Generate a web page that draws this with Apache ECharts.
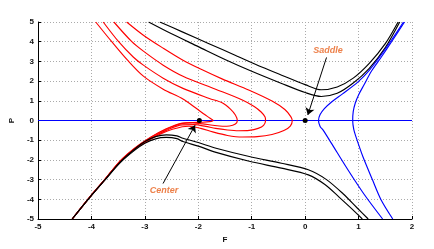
<!DOCTYPE html>
<html><head><meta charset="utf-8">
<script src="https://cdn.jsdelivr.net/npm/echarts@6/dist/echarts.min.js"></script>
<style>html,body{margin:0;padding:0;background:#fff}#c{width:434px;height:249px}</style>
</head><body><div id="c"></div>
<script>
// axis ranges / ticks
const xRange = [-5, 2];
const yRange = [-5, 5];
const axisNames = ['F', 'P'];

// red trajectories (F, P)
const red1 = [[-3.92,5],[-3.62,4.0],[-3.324,3.06],[-3.028,2.25],[-2.657,1.59],[-2.287,1.09],[-2.046,0.63],[-1.88,0.30],[-1.787,0.13],[-1.722,0],[-1.787,-0.06],[-1.917,-0.09],[-2.102,-0.10],[-2.3,-0.13],[-2.6,-0.42],[-2.9,-0.86],[-3.2,-1.42],[-3.46,-2.05],[-3.75,-3.0],[-4.05,-3.95],[-4.36,-5]];
const red2 = [[-3.78,5],[-3.491,4.0],[-3.213,3.21],[-3.028,2.81],[-2.657,2.15],[-2.287,1.63],[-1.793,1.12],[-1.546,0.89],[-1.398,0.58],[-1.306,0.28],[-1.269,0],[-1.306,-0.18],[-1.417,-0.28],[-1.546,-0.29],[-1.731,-0.24],[-1.917,-0.17],[-2.102,-0.12],[-2.3,-0.15],[-2.6,-0.44],[-2.9,-0.88],[-3.2,-1.44],[-3.46,-2.05],[-3.75,-3.0],[-4.05,-3.95],[-4.36,-5]];
const red3 = [[-3.58,5],[-3.244,4.0],[-3.028,3.52],[-2.657,2.81],[-2.287,2.25],[-1.676,1.59],[-1.176,1.04],[-0.954,0.71],[-0.824,0.43],[-0.75,0.18],[-0.741,0],[-0.778,-0.25],[-0.88,-0.40],[-1.046,-0.50],[-1.25,-0.52],[-1.454,-0.48],[-1.676,-0.40],[-1.861,-0.30],[-2.065,-0.21],[-2.3,-0.22],[-2.6,-0.5],[-2.9,-0.92],[-3.2,-1.46],[-3.46,-2.06],[-3.75,-3.0],[-4.05,-3.95],[-4.36,-5]];
const red4 = [[-3.341,5],[-3.028,4.33],[-2.657,3.67],[-2.287,3.06],[-1.917,2.56],[-1.546,2.10],[-1.046,1.54],[-0.62,0.99],[-0.38,0.56],[-0.269,0.20],[-0.241,0],[-0.278,-0.28],[-0.398,-0.51],[-0.62,-0.71],[-0.898,-0.82],[-1.176,-0.84],[-1.454,-0.76],[-1.731,-0.58],[-1.954,-0.40],[-2.176,-0.29],[-2.3,-0.32],[-2.6,-0.56],[-2.9,-0.96],[-3.2,-1.48],[-3.46,-2.07],[-3.75,-3.0],[-4.05,-3.95],[-4.36,-5]];

// black trajectories
const blackUpIn = [[-2.93,5],[-2.5,4.4],[-2.0,3.75],[-1.5,3.1],[-1.0,2.5],[-0.44,1.88],[0,1.42],[0.3,1.22],[0.6,1.38],[0.9,1.9],[1.2,2.65],[1.5,3.7],[1.77,5]];
const blackUpOut = [[-2.72,5],[-2.3,4.5],[-1.8,3.9],[-1.3,3.3],[-0.8,2.7],[-0.44,2.3],[0,1.82],[0.3,1.56],[0.6,1.7],[0.9,2.15],[1.2,2.9],[1.5,3.9],[1.74,5]];
const blackLowUp = [[-4.36,-5],[-4.05,-3.96],[-3.75,-3.01],[-3.46,-2.1],[-3.2,-1.47],[-3.0,-1.07],[-2.8,-0.82],[-2.6,-0.73],[-2.4,-0.78],[-2.287,-0.90],[-2.0,-1.12],[-1.667,-1.41],[-1.046,-1.83],[-0.444,-2.17],[0.06,-2.5],[0.40,-3.0],[0.71,-3.72],[0.97,-4.43],[1.18,-5]];
const blackLowDn = [[-4.36,-5],[-4.05,-3.97],[-3.75,-3.03],[-3.46,-2.14],[-3.2,-1.53],[-3.0,-1.16],[-2.8,-0.93],[-2.6,-0.86],[-2.4,-0.92],[-2.287,-1.07],[-2.0,-1.3],[-1.667,-1.62],[-1.046,-2.07],[-0.444,-2.42],[0.06,-2.76],[0.37,-3.25],[0.64,-3.9],[0.88,-4.5],[1.07,-5]];

// blue trajectories
const blueAxis = [[-5,0],[2,0]];
const blue1 = [[1.84,5],[1.62,4.1],[1.4,3.25],[1.2,2.55],[0.99,1.96],[0.7,1.35],[0.5,0.95],[0.36,0.6],[0.28,0.3],[0.25,0],[0.28,-0.3],[0.34,-0.5],[0.49,-1.15],[0.8,-2.5],[1.11,-3.77],[1.45,-5]];
const blue2 = [[1.86,5],[1.63,4.05],[1.42,3.2],[1.24,2.5],[1.1,1.8],[1.0,1.3],[0.94,0.9],[0.9,0.45],[0.89,0],[0.91,-0.45],[0.95,-0.82],[1.08,-1.83],[1.26,-3.01],[1.42,-4.02],[1.64,-5]];

// equilibria and annotations
const points = [[0,0],[-1.98,0]];
const annoText = ['Saddle','Center'];
const annoTextPos = [[0.43,3.57],[-2.64,-3.54]];
const annoArrowFrom = [[0.40,3.2],[-2.66,-3.2]];
const annoArrowTo = [[0.05,0.28],[-2.06,-0.24]];

const chart = echarts.init(document.getElementById('c'));
const lineS = (data, color) => ({type:'line', data, showSymbol:false, smooth:0.3, lineStyle:{color, width:1.15}, silent:true, animation:false, z:2});
const font = 'Liberation Sans, Arial, sans-serif';
const axisCommon = {
  axisLine:{show:true, onZero:false, lineStyle:{color:'#000', width:1}},
  axisTick:{show:true, inside:true, length:3, lineStyle:{color:'#000'}},
  axisLabel:{color:'#111', fontSize:8, fontWeight:'bold', fontFamily:font, margin:4},
  splitLine:{show:true, lineStyle:{color:'#aaa', type:[1,2], width:1}},
  nameLocation:'middle',
  nameTextStyle:{color:'#111', fontSize:8, fontWeight:'bold', fontFamily:font}
};
chart.setOption({
  animation:false,
  grid:{left:34, right:22, top:22, bottom:30},
  xAxis:Object.assign({type:'value', min:xRange[0], max:xRange[1], interval:1, name:axisNames[0], nameGap:11}, axisCommon),
  yAxis:Object.assign({type:'value', min:yRange[0], max:yRange[1], interval:1, name:axisNames[1], nameGap:17, nameRotate:90}, axisCommon),
  series:[
    lineS(blueAxis,'#0000ff'),
    lineS(red1,'#ff0000'), lineS(red2,'#ff0000'), lineS(red3,'#ff0000'), lineS(red4,'#ff0000'),
    lineS(blackUpIn,'#000'), lineS(blackUpOut,'#000'), lineS(blackLowUp,'#000'), lineS(blackLowDn,'#000'),
    lineS(blue1,'#0000ff'), lineS(blue2,'#0000ff'),
    {type:'scatter', data:points, symbol:'circle', symbolSize:5, itemStyle:{color:'#000', opacity:1}, z:10, silent:true},
    {type:'lines', coordinateSystem:'cartesian2d', silent:true, z:10,
     data:annoArrowFrom.map((f,i)=>({coords:[f, annoArrowTo[i]]})),
     symbol:['none','arrow'], symbolSize:[0,7],
     lineStyle:{color:'#000', width:1, opacity:1}},
    {type:'scatter', data:annoTextPos.map((p,i)=>({value:p, name:annoText[i]})), symbolSize:0, silent:true, z:11,
     label:{show:true, position:'inside', formatter:'{b}', color:'#e8601c', fontSize:9, fontWeight:'bold', fontStyle:'italic', fontFamily:font}}
  ]
});
</script></body></html>
